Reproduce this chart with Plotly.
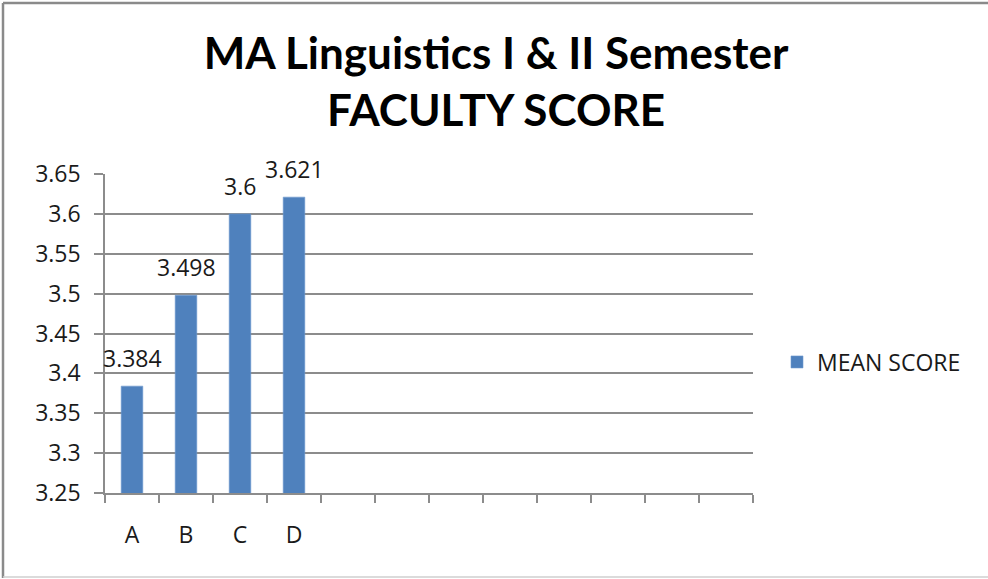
import plotly.graph_objects as go

# Mean faculty score per faculty member
categories = ["A", "B", "C", "D"]
mean_score = [3.384, 3.498, 3.6, 3.621]
label_text = ["3.384", "3.498", "3.6", "3.621"]
# empty category slots that follow the four faculty members
blank_slots = [" " * (i + 1) for i in range(8)]

y_ticks = [3.25, 3.3, 3.35, 3.4, 3.45, 3.5, 3.55, 3.6, 3.65]
y_tick_text = ["3.25", "3.3", "3.35", "3.4", "3.45", "3.5", "3.55", "3.6", "3.65"]

TITLE_FONT = "Lato, 'Open Sans', sans-serif"
FONT = "'Open Sans', Lato, sans-serif"
GRID = "#8c8c8c"
BAR = "#4F81BD"
TXT = "#1a1a1a"

W, H = 988, 579
L, R, T, B = 105, 753, 174, 493

fig = go.Figure()
fig.add_trace(go.Bar(
    x=categories,
    y=mean_score,
    name="MEAN SCORE",
    marker=dict(color=BAR, line=dict(color="#6f9bd0", width=0.6)),
    width=0.4,
))

# value labels above each bar
for c, v, t in zip(categories, mean_score, label_text):
    fig.add_annotation(
        x=c, y=v, text=t, showarrow=False,
        yanchor="bottom", yshift=10,
        font=dict(family=FONT, size=23, color=TXT),
    )

fig.update_layout(
    width=W, height=H,
    margin=dict(l=L, r=W - R, t=T, b=H - B, pad=0, autoexpand=False),
    paper_bgcolor="white",
    plot_bgcolor="white",
    title=dict(
        text="<b>MA Linguistics I &amp; II Semester<br>FACULTY SCORE</b>",
        x=496 / W, xanchor="center",
        y=1 - 69 / H, yanchor="middle",
        font=dict(family=TITLE_FONT, size=44, color="black"),
    ),
    bargap=0.6,
    showlegend=True,
    legend=dict(
        x=(777 - L) / (R - L), xanchor="left",
        y=(B - 362) / (B - T), yanchor="middle",
        font=dict(family=FONT, size=23, color=TXT),
        bgcolor="rgba(0,0,0,0)",
        itemwidth=30,
    ),
    xaxis=dict(
        type="category",
        categoryorder="array",
        categoryarray=categories + blank_slots,
        range=[-0.5, len(categories) + len(blank_slots) - 0.5],
        tickson="boundaries",
        tickangle=0,
        automargin=False,
        ticks="outside", ticklen=8, tickcolor=GRID, tickwidth=1.5,
        showline=True, linecolor=GRID, linewidth=1.5,
        showgrid=False,
        tickfont=dict(family=FONT, size=23, color=TXT),
        ticklabelstandoff=21,
        fixedrange=True,
    ),
    yaxis=dict(
        range=[3.25, 3.65],
        tickvals=y_ticks, ticktext=y_tick_text,
        automargin=False,
        ticks="outside", ticklen=9, tickcolor=GRID, tickwidth=1.5,
        showline=True, linecolor=GRID, linewidth=1.5,
        showgrid=True, gridcolor=GRID, gridwidth=1.5,
        zeroline=False,
        tickfont=dict(family=FONT, size=23, color=TXT),
        ticklabelstandoff=9,
        fixedrange=True,
    ),
)

# chart-area frame: darker left/top edges, light bottom edge
def px_x(p):
    return (p - L) / (R - L)

def px_y(p):
    return (B - p) / (B - T)

frame = [
    (3, 3, 3, 578, "#8a8a8a", 2.5),
    (3, 3, 988, 3, "#8a8a8a", 2.5),
    (3, 577, 988, 577, "#cfcfcf", 1.5),
]
for x0, y0, x1, y1, col, w in frame:
    fig.add_shape(type="line", xref="paper", yref="paper",
                  x0=px_x(x0), y0=px_y(y0), x1=px_x(x1), y1=px_y(y1),
                  line=dict(color=col, width=w), layer="above")

fig.write_html("out.html")
